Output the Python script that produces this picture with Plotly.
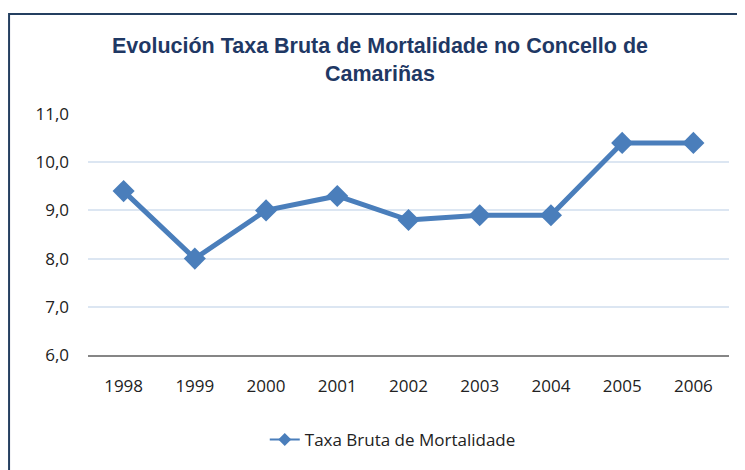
import plotly.graph_objects as go

years = ["1998", "1999", "2000", "2001", "2002", "2003", "2004", "2005", "2006"]
taxa = [9.4, 8.0, 9.0, 9.3, 8.8, 8.9, 8.9, 10.4, 10.4]
series_name = "Taxa Bruta de Mortalidade"
title_text = "Evolución Taxa Bruta de Mortalidade no Concello de<br>Camariñas"

OFF = 8  # page body margin
W, H = 745, 470
L, T = 88 - OFF, 114 - OFF
R = W - (729.5 - OFF)
B = H - (355 - OFF)
pw = W - L - R
ph = H - T - B

fig = go.Figure()
fig.add_trace(go.Scatter(
    x=years, y=taxa, mode="lines+markers", name=series_name, showlegend=False,
    line=dict(color="#4A7EBB", width=5),
    marker=dict(symbol="diamond", size=17, color="#4A7EBB"),
))
fig.add_trace(go.Scatter(
    x=[None], y=[None], mode="lines+markers", name=series_name,
    line=dict(color="#4A7EBB", width=2),
    marker=dict(symbol="diamond", size=10, color="#4A7EBB"),
))

fig.update_layout(
    width=W, height=H,
    margin=dict(l=L, r=R, t=T, b=B),
    paper_bgcolor="white", plot_bgcolor="white",
    separators=",.",
    title=dict(text=title_text, x=(380 - OFF) / W, xanchor="center",
               y=1 - 45 / H, yanchor="middle", yref="container",
               font=dict(family="Liberation Sans, Arial", size=21.5, color="#1F3864", weight="bold")),
    showlegend=True,
    legend=dict(orientation="h", x=(393 - OFF - L) / pw, xanchor="center",
                y=(H - B - (440 - OFF)) / ph, yanchor="middle",
                font=dict(family="Open Sans, Noto Sans", size=17, color="#222222")),
    xaxis=dict(type="category", range=[-0.5, 8.5], showgrid=False,
               showline=True, linecolor="#868686", linewidth=2, ticks="",
               ticklabelstandoff=15,
               tickfont=dict(family="Open Sans, Noto Sans", size=17, color="#222222")),
    yaxis=dict(range=[6, 11], dtick=1, tickformat=".1f", showgrid=True,
               gridcolor="#DCE6F2", gridwidth=2, zeroline=False, showline=False,
               ticks="", ticklabelstandoff=18,
               tickfont=dict(family="Open Sans, Noto Sans", size=17, color="#222222")),
    shapes=[dict(type="rect", xref="paper", yref="paper",
                 x0=(1 - L) / pw, x1=(W + 10 - L) / pw,
                 y0=(H - B - (H + 10)) / ph, y1=(H - B - (14 - OFF)) / ph,
                 line=dict(color="#243F60", width=2), fillcolor="rgba(0,0,0,0)",
                 layer="below")],
)

fig.write_html("out.html")
